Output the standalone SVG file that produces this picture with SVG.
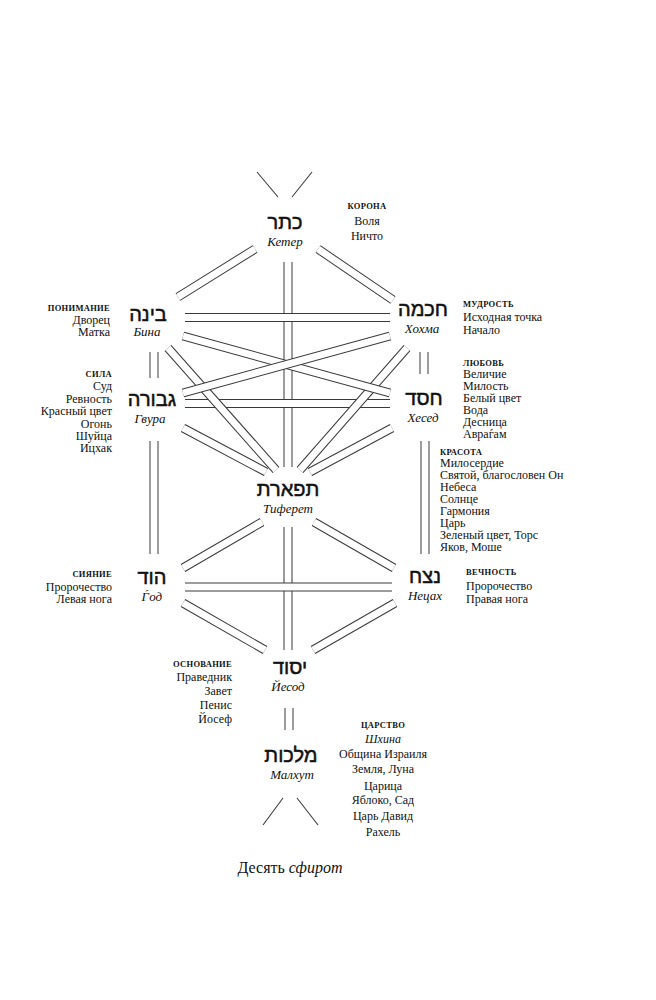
<svg xmlns="http://www.w3.org/2000/svg" xmlns:xlink="http://www.w3.org/1999/xlink" width="656" height="1000" viewBox="0 0 656 1000">
<style>
.o{stroke:#3a3a3a;stroke-width:9;fill:none}
.i{stroke:#fff;stroke-width:7;fill:none}
.s{stroke:#3a3a3a;stroke-width:1.1;fill:none}
.heb{font-family:"Liberation Sans","DejaVu Sans",sans-serif;font-size:20px;fill:#111;stroke:#111;stroke-width:0.5;text-anchor:middle}
.nm{font-family:"Liberation Serif","DejaVu Serif",serif;font-style:italic;font-size:13px;fill:#111;text-anchor:middle}
.t{font-family:"Liberation Serif","DejaVu Serif",serif;font-size:12px;fill:#111}
.h{font-family:"Liberation Serif","DejaVu Serif",serif;font-size:8.5px;font-weight:bold;fill:#111;letter-spacing:0.3px}
.r{text-anchor:end}
.m{text-anchor:middle}
.cap{font-family:"Liberation Serif","DejaVu Serif",serif;font-size:16px;fill:#111;text-anchor:middle}
</style>
<defs>
<path id="c1" d="M288,262V467"/>
<path id="c2" d="M288,527V650"/>
<path id="c3" d="M289,708V730"/>
<path id="c4" d="M255,249L178,297"/>
<path id="c5" d="M318,249L393,300"/>
<path id="c6" d="M185,317.5H390"/>
<path id="c7" d="M183,336L390,393"/>
<path id="c8" d="M390,336L183,393"/>
<path id="c9" d="M168,348L276,470"/>
<path id="c10" d="M407,348L300,470"/>
<path id="c11" d="M185,403.5H390"/>
<path id="c12" d="M183,428L266,472"/>
<path id="c13" d="M392,428L310,472"/>
<path id="c14" d="M154,352V378"/>
<path id="c15" d="M424,352V374"/>
<path id="c16" d="M154,441V554"/>
<path id="c17" d="M425,441V554"/>
<path id="c18" d="M262,522L183,568"/>
<path id="c19" d="M314,522L394,568"/>
<path id="c20" d="M185,587H392"/>
<path id="c21" d="M183,603L265,650"/>
<path id="c22" d="M395,603L313,650"/>
</defs>
<rect width="656" height="1000" fill="#fff"/>
<g id="connectors">
<use xlink:href="#c1" class="o"/><use xlink:href="#c1" class="i"/>
<use xlink:href="#c2" class="o"/><use xlink:href="#c2" class="i"/>
<use xlink:href="#c3" class="o"/><use xlink:href="#c3" class="i"/>
<use xlink:href="#c6" class="o"/><use xlink:href="#c6" class="i"/>
<use xlink:href="#c11" class="o"/><use xlink:href="#c11" class="i"/>
<use xlink:href="#c20" class="o"/><use xlink:href="#c20" class="i"/>
<use xlink:href="#c4" class="o"/><use xlink:href="#c4" class="i"/>
<use xlink:href="#c5" class="o"/><use xlink:href="#c5" class="i"/>
<use xlink:href="#c9" class="o"/><use xlink:href="#c9" class="i"/>
<use xlink:href="#c10" class="o"/><use xlink:href="#c10" class="i"/>
<use xlink:href="#c7" class="o"/><use xlink:href="#c7" class="i"/>
<use xlink:href="#c8" class="o"/><use xlink:href="#c8" class="i"/>
<use xlink:href="#c12" class="o"/><use xlink:href="#c12" class="i"/>
<use xlink:href="#c13" class="o"/><use xlink:href="#c13" class="i"/>
<use xlink:href="#c14" class="o"/><use xlink:href="#c14" class="i"/>
<use xlink:href="#c15" class="o"/><use xlink:href="#c15" class="i"/>
<use xlink:href="#c16" class="o"/><use xlink:href="#c16" class="i"/>
<use xlink:href="#c17" class="o"/><use xlink:href="#c17" class="i"/>
<use xlink:href="#c18" class="o"/><use xlink:href="#c18" class="i"/>
<use xlink:href="#c19" class="o"/><use xlink:href="#c19" class="i"/>
<use xlink:href="#c21" class="o"/><use xlink:href="#c21" class="i"/>
<use xlink:href="#c22" class="o"/><use xlink:href="#c22" class="i"/>
<line class="s" x1="257" y1="172" x2="278" y2="197"/>
<line class="s" x1="312" y1="172" x2="292" y2="197"/>
<line class="s" x1="283" y1="798" x2="263" y2="825"/>
<line class="s" x1="297" y1="798" x2="318" y2="825"/>
</g>
<g id="keter">
<text class="heb" x="285" y="229">כתר</text>
<text class="nm" x="285" y="246">Кетер</text>
<text class="h m" x="367" y="209">КОРОНА</text>
<text class="t m" x="367" y="225">Воля</text>
<text class="t m" x="367" y="240">Ничто</text>
</g>
<g id="bina">
<text class="heb" x="148" y="321">בינה</text>
<text class="nm" x="147" y="336">Бина</text>
<text class="h r" x="110" y="311">ПОНИМАНИЕ</text>
<text class="t r" x="110" y="324">Дворец</text>
<text class="t r" x="110" y="336">Матка</text>
</g>
<g id="hokhma">
<text class="heb" x="423" y="316">חכמה</text>
<text class="nm" x="422" y="333">Хохма</text>
<text class="h" x="463" y="307">МУДРОСТЬ</text>
<text class="t" x="463" y="321">Исходная точка</text>
<text class="t" x="463" y="334">Начало</text>
</g>
<g id="gevura">
<text class="heb" x="152" y="406">גבורה</text>
<text class="nm" x="150" y="423">Гвура</text>
<text class="h r" x="112" y="377">СИЛА</text>
<text class="t r" x="112" y="390">Суд</text>
<text class="t r" x="112" y="403">Ревность</text>
<text class="t r" x="112" y="415">Красный цвет</text>
<text class="t r" x="112" y="428">Огонь</text>
<text class="t r" x="112" y="440">Шуйца</text>
<text class="t r" x="112" y="452">Ицхак</text>
</g>
<g id="hesed">
<text class="heb" x="424" y="405">חסד</text>
<text class="nm" x="423" y="422">Хесед</text>
<text class="h" x="463" y="366">ЛЮБОВЬ</text>
<text class="t" x="463" y="378">Величие</text>
<text class="t" x="463" y="390">Милость</text>
<text class="t" x="463" y="402">Белый цвет</text>
<text class="t" x="463" y="414">Вода</text>
<text class="t" x="463" y="426">Десница</text>
<text class="t" x="463" y="438">Авраѓам</text>
</g>
<g id="tiferet">
<text class="heb" x="288" y="496">תפארת</text>
<text class="nm" x="288" y="513">Тиферет</text>
<text class="h" x="440" y="455">КРАСОТА</text>
<text class="t" x="440" y="467">Милосердие</text>
<text class="t" x="440" y="479">Святой, благословен Он</text>
<text class="t" x="440" y="491">Небеса</text>
<text class="t" x="440" y="503">Солнце</text>
<text class="t" x="440" y="515">Гармония</text>
<text class="t" x="440" y="527">Царь</text>
<text class="t" x="440" y="539">Зеленый цвет, Торс</text>
<text class="t" x="440" y="551">Яков, Моше</text>
</g>
<g id="hod">
<text class="heb" x="152" y="584">הוד</text>
<text class="nm" x="152" y="601">Ѓод</text>
<text class="h r" x="112" y="577">СИЯНИЕ</text>
<text class="t r" x="112" y="591">Пророчество</text>
<text class="t r" x="112" y="603">Левая нога</text>
</g>
<g id="netzah">
<text class="heb" x="425" y="583">נצח</text>
<text class="nm" x="425" y="600">Нецах</text>
<text class="h" x="466" y="575">ВЕЧНОСТЬ</text>
<text class="t" x="466" y="590">Пророчество</text>
<text class="t" x="466" y="603">Правая нога</text>
</g>
<g id="yesod">
<text class="heb" x="290" y="674">יסוד</text>
<text class="nm" x="288" y="691">Йесод</text>
<text class="h r" x="232" y="667">ОСНОВАНИЕ</text>
<text class="t r" x="232" y="681">Праведник</text>
<text class="t r" x="232" y="695">Завет</text>
<text class="t r" x="232" y="709">Пенис</text>
<text class="t r" x="232" y="723">Йосеф</text>
</g>
<g id="malkhut">
<text class="heb" x="291" y="762">מלכות</text>
<text class="nm" x="292" y="779">Малхут</text>
<text class="h m" x="383" y="728">ЦАРСТВО</text>
<text class="t m" x="383" y="743" font-style="italic">Шхина</text>
<text class="t m" x="383" y="758">Община Израиля</text>
<text class="t m" x="383" y="773">Земля, Луна</text>
<text class="t m" x="383" y="790">Царица</text>
<text class="t m" x="383" y="804">Яблоко, Сад</text>
<text class="t m" x="383" y="820">Царь Давид</text>
<text class="t m" x="383" y="836">Рахель</text>
</g>
<g id="caption">
<text class="cap" x="290" y="873">Десять <tspan font-style="italic">сфирот</tspan></text>
</g>
</svg>
